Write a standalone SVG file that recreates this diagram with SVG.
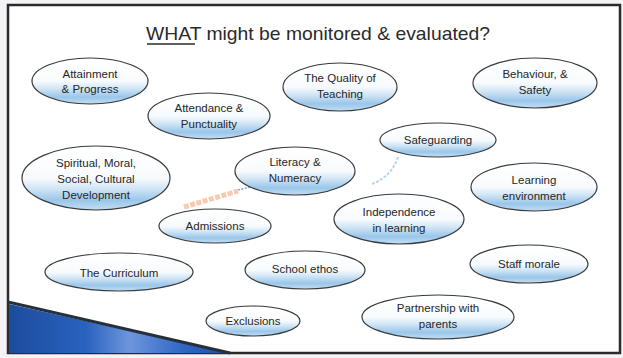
<svg xmlns="http://www.w3.org/2000/svg" width="623" height="358" viewBox="0 0 623 358">
  <style>
    .bubble { fill: url(#bubbleFill); stroke: #3a3a3a; stroke-width: 1.2; }
    .lbl { font-family: "Liberation Sans", Arial, sans-serif; font-size: 11.5px; fill: #262626; text-anchor: middle; }
    .title { font-family: "Liberation Sans", Arial, sans-serif; font-size: 19px; fill: #2a2a2a; }
  </style>
  <defs>
    <linearGradient id="bubbleFill" x1="0" y1="0" x2="0" y2="1">
      <stop offset="0" stop-color="#ffffff"/>
      <stop offset="0.5" stop-color="#f8fbfe"/>
      <stop offset="0.66" stop-color="#d2e6f5"/>
      <stop offset="0.85" stop-color="#9ac6ea"/>
      <stop offset="1" stop-color="#c4def2"/>
    </linearGradient>
    <linearGradient id="wedgeFill" x1="0" y1="0" x2="1" y2="0">
      <stop offset="0" stop-color="#1c4c9c"/>
      <stop offset="0.35" stop-color="#2a62bf"/>
      <stop offset="0.55" stop-color="#6d95dc"/>
      <stop offset="0.8" stop-color="#2f66c4"/>
      <stop offset="1" stop-color="#1f4f9f"/>
    </linearGradient>
  </defs>

  <!-- page -->
  <rect x="0" y="0" width="623" height="358" fill="#f4f4f6"/>
  <rect x="8" y="5" width="612" height="348" fill="#ffffff" stroke="#2b2b2b" stroke-width="2.5"/>

  <!-- corner wedge -->
  <polygon points="9,304 228,353 9,353" fill="url(#wedgeFill)"/>
  <line x1="8" y1="302" x2="230" y2="353" stroke="#26303c" stroke-width="3"/>

  <!-- heading -->
  <text class="title" x="318" y="40" text-anchor="middle" textLength="344" lengthAdjust="spacingAndGlyphs">WHAT might be monitored &amp; evaluated?</text>
  <line x1="147" y1="44" x2="195" y2="44" stroke="#2a2a2a" stroke-width="1.3"/>

  <!-- connectors -->
  <g id="connectors" fill="none">
    <line x1="184" y1="207" x2="238" y2="191" stroke="#f6b48c" stroke-width="5" stroke-dasharray="5 1.5" opacity="0.7"/>
    <line x1="238" y1="190" x2="254" y2="186" stroke="#7aa6c8" stroke-width="1.5" stroke-dasharray="2 1.5"/>
    <path d="M398 157 Q392 176 372 184" stroke="#a6c8e6" stroke-width="2" stroke-dasharray="3 1.5" opacity="0.8"/>
  </g>

  <g id="attainment">
    <ellipse class="bubble" cx="90" cy="81" rx="58" ry="23"/>
    <text class="lbl" x="90" y="78">Attainment</text>
    <text class="lbl" x="90" y="93">&amp; Progress</text>
  </g>
  <g id="quality-teaching">
    <ellipse class="bubble" cx="340" cy="87" rx="57" ry="24"/>
    <text class="lbl" x="340" y="82">The Quality of</text>
    <text class="lbl" x="340" y="98">Teaching</text>
  </g>
  <g id="behaviour">
    <ellipse class="bubble" cx="535" cy="83" rx="62" ry="25"/>
    <text class="lbl" x="535" y="78">Behaviour, &amp;</text>
    <text class="lbl" x="535" y="94">Safety</text>
  </g>
  <g id="attendance">
    <ellipse class="bubble" cx="209" cy="116" rx="61" ry="23"/>
    <text class="lbl" x="209" y="112">Attendance &amp;</text>
    <text class="lbl" x="209" y="128">Punctuality</text>
  </g>
  <g id="safeguarding">
    <ellipse class="bubble" cx="438" cy="140" rx="58" ry="17"/>
    <text class="lbl" x="438" y="144">Safeguarding</text>
  </g>
  <g id="smsc">
    <ellipse class="bubble" cx="96" cy="178" rx="74" ry="32"/>
    <text class="lbl" x="96" y="167">Spiritual, Moral,</text>
    <text class="lbl" x="96" y="183">Social, Cultural</text>
    <text class="lbl" x="96" y="199">Development</text>
  </g>
  <g id="literacy">
    <ellipse class="bubble" cx="295" cy="171" rx="60" ry="24"/>
    <text class="lbl" x="295" y="166">Literacy &amp;</text>
    <text class="lbl" x="295" y="182">Numeracy</text>
  </g>
  <g id="learning-environment">
    <ellipse class="bubble" cx="534" cy="187" rx="63" ry="24"/>
    <text class="lbl" x="534" y="184">Learning</text>
    <text class="lbl" x="534" y="200">environment</text>
  </g>
  <g id="admissions">
    <ellipse class="bubble" cx="215" cy="226" rx="56" ry="17"/>
    <text class="lbl" x="215" y="230">Admissions</text>
  </g>
  <g id="independence">
    <ellipse class="bubble" cx="399" cy="219" rx="65" ry="25"/>
    <text class="lbl" x="399" y="216">Independence</text>
    <text class="lbl" x="399" y="232">in learning</text>
  </g>
  <g id="curriculum">
    <ellipse class="bubble" cx="119" cy="272" rx="74" ry="19"/>
    <text class="lbl" x="119" y="277">The Curriculum</text>
  </g>
  <g id="school-ethos">
    <ellipse class="bubble" cx="305" cy="270" rx="60" ry="19"/>
    <text class="lbl" x="305" y="273">School ethos</text>
  </g>
  <g id="staff-morale">
    <ellipse class="bubble" cx="529" cy="264" rx="59" ry="19"/>
    <text class="lbl" x="529" y="268">Staff morale</text>
  </g>
  <g id="exclusions">
    <ellipse class="bubble" cx="253" cy="321" rx="47" ry="15"/>
    <text class="lbl" x="253" y="325">Exclusions</text>
  </g>
  <g id="partnership">
    <ellipse class="bubble" cx="438" cy="317" rx="76" ry="22"/>
    <text class="lbl" x="438" y="312">Partnership with</text>
    <text class="lbl" x="438" y="328">parents</text>
  </g>
</svg>
